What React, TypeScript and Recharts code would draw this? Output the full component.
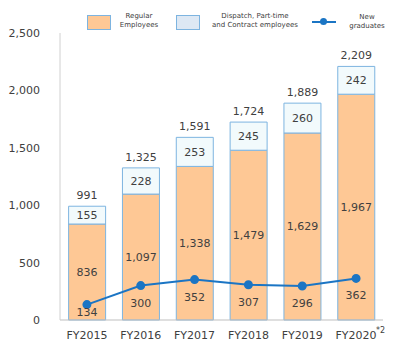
import React from "react";
import {
  ComposedChart, Bar, Line, XAxis, YAxis, LabelList,
} from "recharts";

const years = ["FY2015", "FY2016", "FY2017", "FY2018", "FY2019", "FY2020"];
const regular = [836, 1097, 1338, 1479, 1629, 1967];
const dispatch = [155, 228, 253, 245, 260, 242];
const totals = [991, 1325, 1591, 1724, 1889, 2209];
const graduates = [134, 300, 352, 307, 296, 362];
const yTicks = [0, 500, 1000, 1500, 2000, 2500];

const FONT = "'DejaVu Sans', Verdana, sans-serif";
const TEXT = "#404040";
const ORANGE = "#fec895";
const PALE = "#f2fafc";
const EDGE = "#7db4e0";
const BLUE = "#1b75c4";

const data = years.map((y, i) => ({
  year: y,
  regular: regular[i],
  dispatch: dispatch[i],
  total: totals[i],
  grads: graduates[i],
}));

const fmt = (v: number) => v.toLocaleString("en-US");

function XTick(props: any) {
  const { x, y, payload } = props;
  const last = payload.value === "FY2020";
  return (
    <g>
      <text x={x} y={y} dy={11} textAnchor="middle" fontSize={11} fontFamily={FONT} fill={TEXT}>
        {payload.value}
      </text>
      {last && (
        <text x={x + 20} y={y} dy={5} fontSize={8} fontFamily={FONT} fill={TEXT}>
          *2
        </text>
      )}
    </g>
  );
}

function GradLabel(props: any) {
  const { x, y, value } = props;
  const ty = Math.min(y + 17, 312);
  return (
    <text x={x} y={ty} dy={4} textAnchor="middle" fontSize={11} fontFamily={FONT} fill={TEXT}>
      {value}
    </text>
  );
}

const legendText: React.CSSProperties = {
  position: "absolute",
  fontFamily: FONT,
  fontSize: 7,
  lineHeight: "9px",
  color: TEXT,
  textAlign: "center",
  whiteSpace: "nowrap",
  transform: "translateX(-50%)",
};

export default function App() {
  return (
    <div style={{ position: "fixed", left: 0, top: 0, width: 400, height: 348, background: "#fff" }}>
      <ComposedChart
        width={400}
        height={348}
        data={data}
        margin={{ top: 33, right: 17, left: 0, bottom: 0 }}
        barCategoryGap="16%"
      >
        <XAxis
          dataKey="year"
          height={28}
          axisLine={{ stroke: "#bfbfbf" }}
          tickLine={false}
          tick={<XTick />}
          interval={0}
        />
        <YAxis
          width={60}
          domain={[0, 2500]}
          ticks={yTicks}
          tickFormatter={fmt}
          axisLine={{ stroke: "#d0d0d0" }}
          tickLine={false}
          tickMargin={14}
          tick={{ fontSize: 11, fontFamily: FONT, fill: TEXT }}
        />
        <Bar dataKey="regular" stackId="a" fill={ORANGE} stroke={EDGE} strokeWidth={1} isAnimationActive={false}>
          <LabelList dataKey="regular" position="center" formatter={(v: any) => fmt(v)}
            style={{ fontSize: 11, fontFamily: FONT, fill: TEXT }} />
        </Bar>
        <Bar dataKey="dispatch" stackId="a" fill={PALE} stroke={EDGE} strokeWidth={1} isAnimationActive={false}>
          <LabelList dataKey="dispatch" position="center"
            style={{ fontSize: 11, fontFamily: FONT, fill: TEXT }} />
          <LabelList dataKey="total" position="top" offset={7} formatter={(v: any) => fmt(v)}
            style={{ fontSize: 11, fontFamily: FONT, fill: TEXT }} />
        </Bar>
        <Line
          dataKey="grads"
          stroke={BLUE}
          strokeWidth={2}
          dot={{ r: 3.5, fill: BLUE, stroke: BLUE }}
          activeDot={false}
          isAnimationActive={false}
        >
          <LabelList dataKey="grads" content={<GradLabel />} />
        </Line>
      </ComposedChart>

      <div style={{ position: "absolute", left: 87, top: 15, width: 24, height: 15, background: ORANGE, border: `1px solid ${EDGE}`, boxSizing: "border-box" }} />
      <div style={{ ...legendText, left: 139, top: 12 }}>Regular<br />Employees</div>

      <div style={{ position: "absolute", left: 176, top: 15, width: 24, height: 15, background: "#dde8f4", border: `1px solid ${EDGE}`, boxSizing: "border-box" }} />
      <div style={{ ...legendText, left: 255, top: 12 }}>Dispatch, Part-time<br />and Contract employees</div>

      <div style={{ position: "absolute", left: 312, top: 21, width: 24, height: 2, background: BLUE }} />
      <div style={{ position: "absolute", left: 320, top: 19, width: 7, height: 7, borderRadius: "50%", background: BLUE, transform: "translateY(-1px)" }} />
      <div style={{ ...legendText, left: 367, top: 13 }}>New<br />graduates</div>
    </div>
  );
}
